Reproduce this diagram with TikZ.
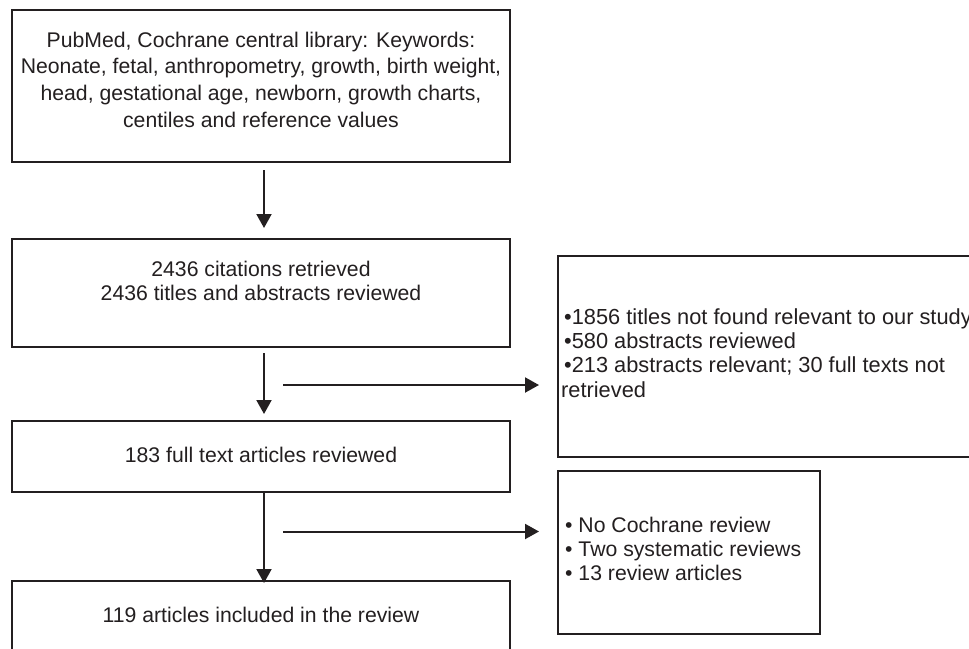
\documentclass[tikz,border=0pt]{standalone}
\usepackage{fontspec}
\setmainfont{Liberation Sans}
\usetikzlibrary{arrows.meta}
\definecolor{ink}{RGB}{35,31,32}
\begin{document}
\begin{tikzpicture}[x=1pt,y=-1pt,
  box/.style={draw=ink, line width=1.8pt, inner sep=0pt, fill=none},
  txt/.style={inner sep=0pt, text=ink, font=\fontsize{21.2}{26.8}\selectfont},
  txtb/.style={inner sep=0pt, text=ink, font=\fontsize{21.2}{24.4}\selectfont},
  txtc/.style={inner sep=0pt, text=ink, font=\fontsize{21.8}{24.4}\selectfont},
  arr/.style={draw=ink, line width=2pt, -{Triangle[length=14pt,width=15pt]}}]
\useasboundingbox (0,0) rectangle (969,648);
\clip (0,0) rectangle (969,648);
\fill[white] (0,0) rectangle (969,648);
% main column boxes
\node[box, minimum width=498pt, minimum height=152pt] (b1) at (261,86) {};
\node[box, minimum width=498pt, minimum height=108pt] (b2) at (261,293) {};
\node[box, minimum width=498pt, minimum height=71pt] (b3) at (261,456.5) {};
\node[box, minimum width=498pt, minimum height=120pt] (b4) at (261,641) {};
% side boxes
\node[box, minimum width=460pt, minimum height=201pt] (r1) at (788,356.5) {};
\node[box, minimum width=262pt, minimum height=163pt] (r2) at (689,552.5) {};
% texts
\node[txt, align=center, anchor=north] (t1) at (261,31.5)
  {PubMed, Cochrane central library: Keywords:\\
   Neonate, fetal, anthropometry, growth, birth weight,\\
   head, gestational age, newborn, growth charts,\\
   centiles and reference values};
\node[txtb, align=center, anchor=north] (t2) at (261,260.5)
  {2436 citations retrieved\\2436 titles and abstracts reviewed};
\node[txt, anchor=base] (t3) at (261,462) {183 full text articles reviewed};
\node[txt, anchor=base] (t4) at (261,622) {119 articles included in the review};
\node[txtc, align=left, anchor=north west] (tr1) at (561,308)
  {\hspace*{3pt}•1856 titles not found relevant to our study\\
   \hspace*{3pt}•580 abstracts reviewed\\
   \hspace*{3pt}•213 abstracts relevant; 30 full texts not\\
   retrieved};
\node[txtb, align=left, anchor=north west] (tr2) at (565,516.5)
  {• No Cochrane review\\
   • Two systematic reviews\\
   • 13 review articles};
% connector end points
\coordinate (a1s) at (264,170);
\coordinate (a1e) at (264,228);
\coordinate (a2s) at (264,353);
\coordinate (a2e) at (264,414);
\coordinate (a3s) at (264,492);
\coordinate (a3e) at (264,583);
\coordinate (h1s) at (283,385);
\coordinate (h1e) at (539,385);
\coordinate (h2s) at (283,531.5);
\coordinate (h2e) at (539,531.5);
\draw[arr] (a1s) -- (a1e);
\draw[arr] (a2s) -- (a2e);
\draw[arr] (a3s) -- (a3e);
\draw[arr] (h1s) -- (h1e);
\draw[arr] (h2s) -- (h2e);
\end{tikzpicture}
\end{document}
